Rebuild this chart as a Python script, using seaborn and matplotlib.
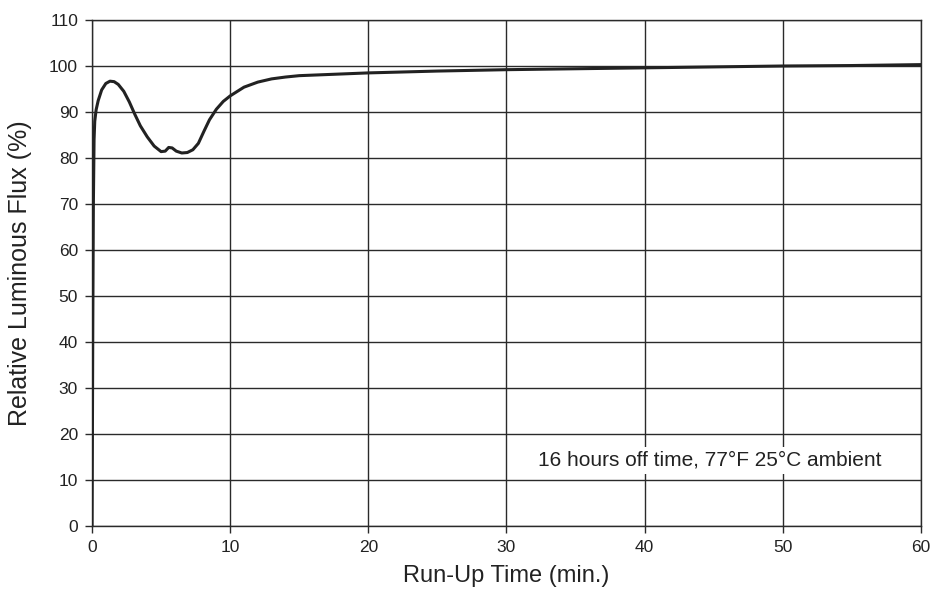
import matplotlib
matplotlib.use("Agg")
import matplotlib.pyplot as plt
import seaborn as sns
import pandas as pd

# Data
run_up_time = [0, 0.03, 0.06, 0.1, 0.15, 0.2, 0.3, 0.45, 0.7, 1.0, 1.3, 1.6, 1.9, 2.3, 2.7,
               3.1, 3.5, 4.0, 4.5, 5.0, 5.3, 5.55, 5.8, 6.1, 6.5, 6.9, 7.3, 7.7, 8.1,
               8.5, 9.0, 9.5, 10.0, 11.0, 12.0, 13.0, 14.0, 15.0, 17.5, 20.0, 25.0,
               30.0, 35.0, 40.0, 45.0, 50.0, 55.0, 60.0]
rel_flux = [0, 20, 45, 70, 84, 88, 90.5, 92.5, 94.8, 96.2, 96.7, 96.6, 96.0, 94.5, 92.2,
            89.5, 87.0, 84.6, 82.6, 81.4, 81.5, 82.3, 82.2, 81.5, 81.1, 81.2, 81.8, 83.2, 85.8,
            88.3, 90.6, 92.3, 93.5, 95.4, 96.5, 97.2, 97.6, 97.9, 98.2, 98.5, 98.9,
            99.2, 99.4, 99.6, 99.8, 100.0, 100.1, 100.3]
x_ticks = [0, 10, 20, 30, 40, 50, 60]
y_ticks = [0, 10, 20, 30, 40, 50, 60, 70, 80, 90, 100, 110]
annotation = "16 hours off time, 77\u00b0F 25\u00b0C ambient"

df = pd.DataFrame({"t": run_up_time, "flux": rel_flux})

sns.set_style("white")
plt.rcParams["font.family"] = ["Liberation Sans", "DejaVu Sans"]

fig = plt.figure(figsize=(9.33, 5.98), dpi=100)
ax = fig.add_axes([0.0986, 0.120, 0.8885, 0.8466])

sns.lineplot(data=df, x="t", y="flux", ax=ax, color="#222222", linewidth=2.2,
             sort=False, estimator=None, zorder=3)

ax.set_xlim(0, 60)
ax.set_ylim(0, 110)
ax.set_xticks(x_ticks)
ax.set_yticks(y_ticks)
ax.grid(True, color="#2a2a2a", linewidth=1.0, zorder=1)
for s in ax.spines.values():
    s.set_color("#2a2a2a")
    s.set_linewidth(1.0)
ax.tick_params(axis="both", direction="out", length=5, width=1.0, color="#2a2a2a",
               labelsize=12.5, labelcolor="#222222", pad=5, bottom=True, left=True)
ax.set_xlabel("Run-Up Time (min.)", fontsize=17, color="#222222", labelpad=7)
ax.set_ylabel("Relative Luminous Flux (%)", fontsize=18, color="#222222", labelpad=12)

ax.text(44.7, 14.3, annotation, ha="center", va="center", fontsize=15, color="#222222",
        bbox=dict(facecolor="white", edgecolor="none", pad=3), zorder=4)

fig.savefig("out.png", dpi=100, facecolor="white")
